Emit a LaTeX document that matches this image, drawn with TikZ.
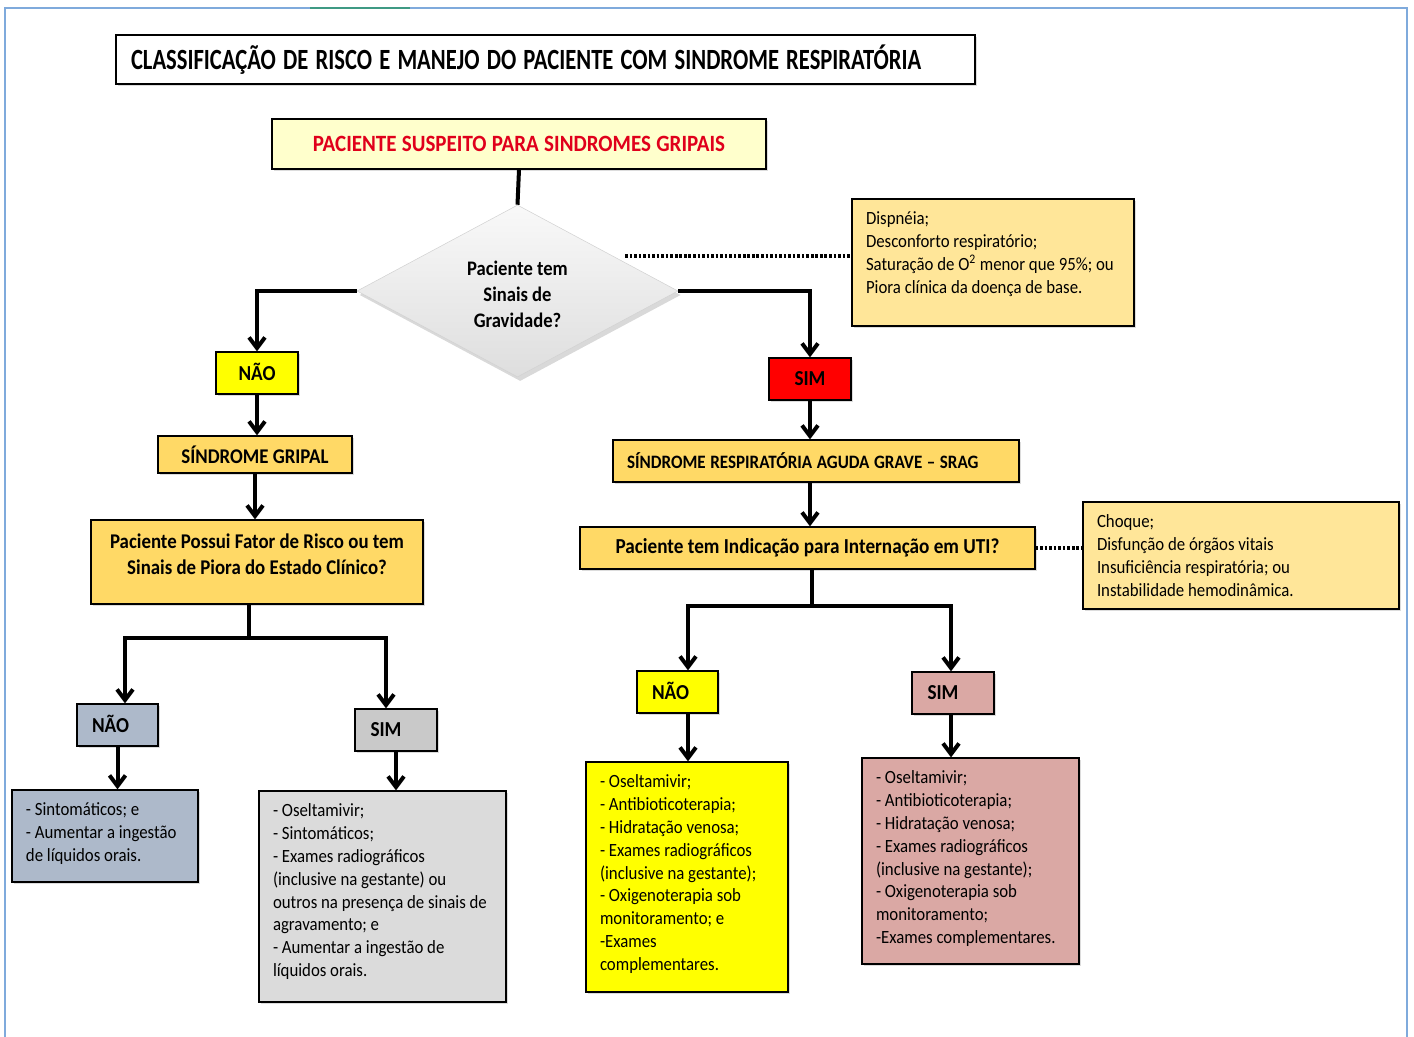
\documentclass[tikz,border=0pt]{standalone}
\usepackage{fontspec}
\setmainfont{Carlito}[FakeStretch=0.9]
\newfontfamily\titlefont{Carlito}[FakeStretch=0.77]
\newfontfamily\capsfont{Carlito}[FakeStretch=0.9]
\usetikzlibrary{shapes.geometric,arrows.meta,shadows}
\newdimen\PX \PX=0.75pt
\newcommand\tb[3]{\parbox[c][#2\PX][t]{#1\PX}{\begin{tabular}[t]{@{}l@{}}#3\end{tabular}}}
\newcommand\ctab[2]{\raisebox{#1}[0pt][0pt]{\begin{tabular}[t]{@{}c@{}}#2\end{tabular}}}
\newcommand\tightsp[1]{\spaceskip=#1\relax}
\definecolor{gold}{HTML}{FFD966}
\definecolor{lgold}{HTML}{FFE699}
\definecolor{lyel}{HTML}{FFFFCC}
\definecolor{yel}{HTML}{FFFF00}
\definecolor{redbox}{HTML}{FF0000}
\definecolor{redtxt}{HTML}{E0001B}
\definecolor{bgray}{HTML}{ADB9CA}
\definecolor{sgray}{HTML}{C9C9C9}
\definecolor{lgray}{HTML}{DBDBDB}
\definecolor{rose}{HTML}{DAA8A4}
\definecolor{framebl}{HTML}{7FAADC}
\definecolor{fgreen}{HTML}{3F9A84}
\begin{document}
\begin{tikzpicture}[x=0.75pt,y=-0.75pt,
  wh/.style 2 args={minimum width=#1*0.75pt,minimum height=#2*0.75pt},
  box/.style={rectangle,draw=black,line width=0.9pt,inner sep=0pt,
     drop shadow={opacity=0.28,shadow xshift=1.3pt,shadow yshift=-1.3pt}},
  lbl/.style={box,align=center,font=\bfseries\fontsize{15.7}{19.5}\selectfont},
  yn/.style={box,font=\bfseries\fontsize{16}{19}\selectfont},
  ynl/.style={yn,inner xsep=11.25pt,text width=38.25pt,align=left},
  body/.style={box,inner xsep=10.5pt,inner ysep=7.5pt,font=\fontsize{14}{17.1}\selectfont},
  wire/.style={line width=3pt},
  arr/.style={line width=3pt,-{Straight Barb[length=8pt,width=12pt]}},
  dots/.style={line width=3pt,dash pattern=on 2pt off 1.4pt}]
\useasboundingbox (0,0) rectangle (1414,1037);
\draw[framebl,line width=1.4pt] (5,1037) -- (5,8) -- (1407,8) -- (1407,1037);
\draw[fgreen,line width=1.8pt] (310,8) -- (410,8);

% top
\node[box,fill=white,wh={859}{49},inner xsep=11.25pt,text width=621.75pt,align=left,
  font=\titlefont\bfseries\fontsize{22}{26}\selectfont] (title) at (545.5,59.5)
  {\tightsp{5.4pt}CLASSIFICAÇÃO DE RISCO E MANEJO DO PACIENTE COM SINDROME RESPIRATÓRIA};
\node[lbl,fill=lyel,wh={494}{50},text=redtxt,font=\capsfont\bfseries\fontsize{17.5}{20}\selectfont] (sus) at (519,144)
  {\tightsp{4pt}PACIENTE SUSPEITO PARA SINDROMES GRIPAIS};
\node[diamond,wh={321}{172},inner sep=0pt,top color=gray!5,bottom color=gray!26,draw=gray!35,
  font=\bfseries\fontsize{15.5}{19.5}\selectfont,
  drop shadow={opacity=0.3,shadow xshift=2pt,shadow yshift=-3pt}] (dia) at (517.5,291)
  {\ctab{11.25pt}{Paciente tem\\Sinais de\\Gravidade?}};
\node[body,fill=lgold] (disp) at (993,262.5) {\tb{254}{107}{Dispnéia;\\Desconforto respiratório;\\Saturação de O\textsuperscript{2} menor que 95\%; ou\\Piora clínica da doença de base.}};

% left branch
\node[yn,fill=yel,wh={82}{42}] (naoT) at (257,373) {\raisebox{1.2pt}{NÃO}};
\node[lbl,fill=gold,wh={194}{37}] (gripal) at (255,454.5) {SÍNDROME GRIPAL};
\node[lbl,fill=gold,wh={332}{84}] (fator) at (257,562) {\ctab{10.5pt}{Paciente Possui Fator de Risco ou tem\\Sinais de Piora do Estado Clínico?}};
\node[ynl,fill=bgray,wh={81}{42}] (naoL) at (117.5,725) {\raisebox{2pt}{NÃO}};
\node[ynl,fill=sgray,wh={82}{42}] (simL) at (396,730) {\raisebox{1pt}{SIM}};
\node[body,fill=bgray] (bl) at (105,836) {\tb{158}{72}{- Sintomáticos; e\\- Aumentar a ingestão\\de líquidos orais.}};
\node[body,fill=lgray] (gr) at (382.5,896.5) {\tb{219}{191}{- Oseltamivir;\\- Sintomáticos;\\- Exames radiográficos\\(inclusive na gestante) ou\\outros na presença de sinais de\\agravamento; e\\- Aumentar a ingestão de\\líquidos orais.}};

% right branch
\node[yn,fill=redbox,wh={82}{42}] (simT) at (810,379) {\raisebox{1pt}{SIM}};
\node[lbl,fill=gold,wh={406}{42},inner xsep=10.5pt,text width=283.5pt,align=left,
  font=\capsfont\bfseries\fontsize{14.2}{17}\selectfont] (srag) at (816,461) {\tightsp{3.4pt}\raisebox{1pt}{SÍNDROME RESPIRATÓRIA AGUDA GRAVE – SRAG}};
\node[lbl,fill=gold,wh={455}{42},font=\bfseries\fontsize{16}{19}\selectfont] (uti) at (807.5,548)
  {Paciente tem Indicação para Internação em UTI?};
\node[body,fill=lgold] (choq) at (1241,555.5) {\tb{288}{87}{Choque;\\Disfunção de órgãos vitais\\Insuficiência respiratória; ou\\Instabilidade hemodinâmica.}};
\node[ynl,fill=yel,wh={81}{42}] (naoR) at (677.5,692) {\raisebox{2.5pt}{NÃO}};
\node[ynl,fill=rose,wh={82}{42}] (simR) at (953,693) {\raisebox{1pt}{SIM}};
\node[body,fill=yel] (ye) at (687,877) {\tb{174}{210}{- Oseltamivir;\\- Antibioticoterapia;\\- Hidratação venosa;\\- Exames radiográficos\\(inclusive na gestante);\\- Oxigenoterapia sob\\monitoramento; e\\-Exames\\complementares.}};
\node[body,fill=rose] (pk) at (970.5,861) {\tb{189}{186}{- Oseltamivir;\\- Antibioticoterapia;\\- Hidratação venosa;\\- Exames radiográficos\\(inclusive na gestante);\\- Oxigenoterapia sob\\monitoramento;\\-Exames complementares.}};

% connectors
\draw[wire] (sus.south) -- (dia.north);
\draw[arr] (dia.west) -| (naoT.north);
\draw[arr] (dia.east) -| (simT.north);
\coordinate (dd) at (625,256);
\draw[dots] (dd) -- (dd -| disp.west);

\draw[arr] (naoT.south) -- (naoT.south |- gripal.north);
\draw[arr] (gripal.south) -- (gripal.south |- fator.north);
\coordinate (fj) at (249,638);
\coordinate (fjL) at (125,638);
\coordinate (fjR) at (386,638);
\draw[arr] (fator.south -| fj) |- (fjL) -- (fjL |- naoL.north);
\draw[arr] (fj) -| (fjR |- simL.north);
\draw[arr] (naoL.south) -- (naoL.south |- bl.north);
\draw[arr] (simL.south) -- (simL.south |- gr.north);

\draw[arr] (simT.south) -- (simT.south |- srag.north);
\draw[arr] (simT.south |- srag.south) -- (simT.south |- uti.north);
\draw[dots] (uti.east) -- (uti.east -| choq.west);
\coordinate (uj) at (812,606);
\coordinate (ujL) at (688,606);
\coordinate (ujR) at (951,606);
\draw[arr] (uti.south -| uj) |- (ujL) -- (ujL |- naoR.north);
\draw[arr] (uj) -| (ujR |- simR.north);
\draw[arr] (ujL |- naoR.south) -- (ujL |- ye.north);
\draw[arr] (ujR |- simR.south) -- (ujR |- pk.north);
\end{tikzpicture}
\end{document}
